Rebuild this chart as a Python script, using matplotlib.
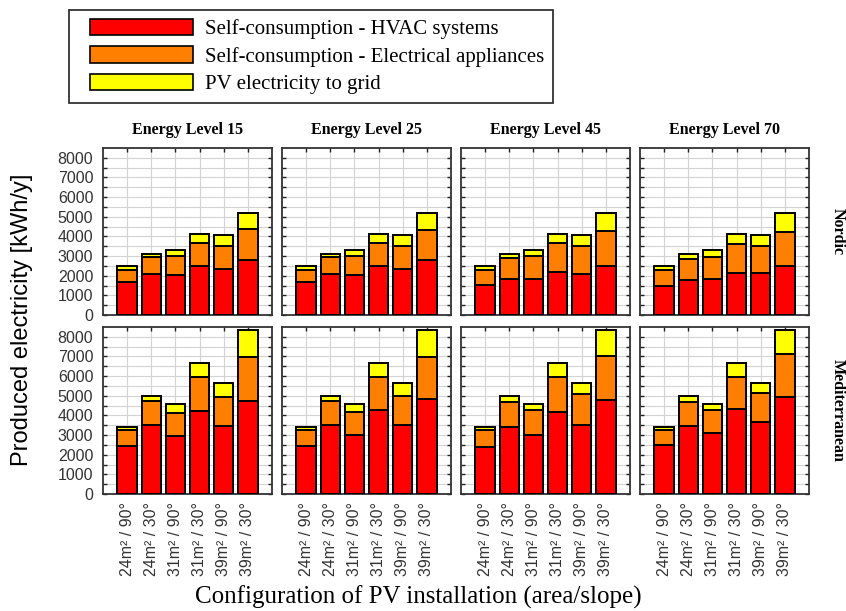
import matplotlib.pyplot as plt
from matplotlib.patches import Patch, Rectangle
import numpy as np

# configurations of the PV installation
configs = ['24m² / 90°', '24m² / 30°', '31m² / 90°', '31m² / 30°', '39m² / 90°', '39m² / 30°']
levels = ['Energy Level 15', 'Energy Level 25', 'Energy Level 45', 'Energy Level 70']
climates = ['Nordic', 'Mediterranean']

# Nordic climate [kWh/y], one row per energy level
hvac_nordic = [[1700, 2090, 2040, 2500, 2330, 2810],
               [1700, 2090, 2040, 2500, 2360, 2810],
               [1515, 1820, 1820, 2200, 2080, 2500],
               [1500, 1790, 1855, 2160, 2160, 2470]]
appl_nordic = [[600, 855, 940, 1190, 1190, 1560],
               [600, 855, 940, 1160, 1160, 1530],
               [785, 1070, 1160, 1460, 1440, 1800],
               [800, 1070, 1090, 1450, 1360, 1770]]
grid_nordic = [[170, 155, 340, 450, 550, 820],
               [170, 155, 340, 480, 565, 850],
               [170, 210, 340, 480, 565, 890],
               [170, 240, 375, 530, 565, 950]]

# Mediterranean climate [kWh/y]
hvac_med = [[2430, 3490, 2975, 4220, 3450, 4735],
            [2430, 3490, 3010, 4270, 3490, 4820],
            [2410, 3400, 2990, 4170, 3520, 4770],
            [2480, 3450, 3110, 4310, 3675, 4940]]
appl_med = [[850, 1245, 1165, 1710, 1510, 2225],
            [850, 1245, 1160, 1660, 1500, 2140],
            [840, 1300, 1265, 1760, 1560, 2240],
            [770, 1250, 1145, 1670, 1455, 2190]]
grid_med = [[140, 255, 425, 740, 715, 1365],
            [140, 255, 395, 740, 685, 1365],
            [170, 290, 310, 740, 595, 1315],
            [170, 290, 310, 690, 545, 1195]]

yticks = [0, 1000, 2000, 3000, 4000, 5000, 6000, 7000, 8000]

series_names = ['Self-consumption - HVAC systems',
                'Self-consumption - Electrical appliances',
                'PV electricity to grid']
colors = ['#ff0000', '#ff8000', '#ffff00']

data = {'Nordic': (hvac_nordic, appl_nordic, grid_nordic),
        'Mediterranean': (hvac_med, appl_med, grid_med)}

serif = ['Liberation Serif', 'DejaVu Serif']
sans = ['Liberation Sans', 'DejaVu Sans']

fig = plt.figure(figsize=(8.46, 6.11), dpi=100)
W, H = 846.0, 611.0

# panel placement in pixels
col_left = [103, 282, 461, 640]
row_top = [148, 327]
pw, ph = 169, 167

x = np.arange(len(configs))
for r, clim in enumerate(climates):
    hvac, appl, grid = data[clim]
    for c, lev in enumerate(levels):
        ax = fig.add_axes([col_left[c] / W, 1 - (row_top[r] + ph) / H, pw / W, ph / H])
        h = np.array(hvac[c])
        a = np.array(appl[c])
        g = np.array(grid[c])
        kw = dict(width=0.8, edgecolor='black', linewidth=1.4, zorder=3)
        ax.bar(x, h, color=colors[0], **kw)
        ax.bar(x, a, bottom=h, color=colors[1], **kw)
        ax.bar(x, g, bottom=h + a, color=colors[2], **kw)

        ax.set_xlim(-1, 6)
        ax.set_ylim(0, 8500)
        ax.set_yticks(yticks)
        ax.set_yticks(np.arange(500, 8500, 1000), minor=True)
        ax.set_xticks(x)
        ax.grid(True, which='both', color='#d3d3d3', linewidth=0.8, zorder=0)
        ax.tick_params(which='both', direction='in', top=True, right=True,
                       length=3, width=1, color='#222222')
        ax.tick_params(axis='y', pad=7)
        ax.tick_params(axis='x', pad=6)
        for s in ax.spines.values():
            s.set_color('#333333')
            s.set_linewidth(1.3)

        if c == 0:
            ax.set_yticklabels([str(v) for v in yticks], fontsize=11.5,
                               family=sans, color='#333333')
        else:
            ax.set_yticklabels([])
        if r == 1:
            ax.set_xticklabels(configs, rotation=90, fontsize=11.5, family=sans,
                               color='#333333')
        else:
            ax.set_xticklabels([])
            ax.set_title(lev, fontsize=11.5, family=serif, fontweight='bold', pad=10)
        if c == 3:
            ax.text(1.17, 0.5, clim, transform=ax.transAxes, rotation=270,
                    ha='center', va='center', fontsize=11.5, family=serif,
                    fontweight='bold')

fig.text(22 / W, 1 - 320 / H, 'Produced electricity [kWh/y]', rotation=90,
         ha='center', va='center', fontsize=17, family=sans)
fig.text(418 / W, 1 - 597 / H, 'Configuration of PV installation (area/slope)',
         ha='center', va='center', fontsize=18, family=serif)

# legend
handles = [Patch(facecolor=col, edgecolor='black', linewidth=1.2) for col in colors]
fig.legend(handles, series_names, loc='upper left',
           bbox_to_anchor=(90 / W, 1 - 19 / H), frameon=False,
           handlelength=4.95, handleheight=0.82, handletextpad=0.55,
           labelspacing=0.34, borderaxespad=0, borderpad=0,
           prop={'family': serif, 'size': 15})
fig.patches.append(Rectangle((69 / W, 1 - 103 / H), 484 / W, 93 / H,
                             transform=fig.transFigure, fill=False,
                             edgecolor='#333333', linewidth=1.3))

plt.savefig('out.png', dpi=100)
